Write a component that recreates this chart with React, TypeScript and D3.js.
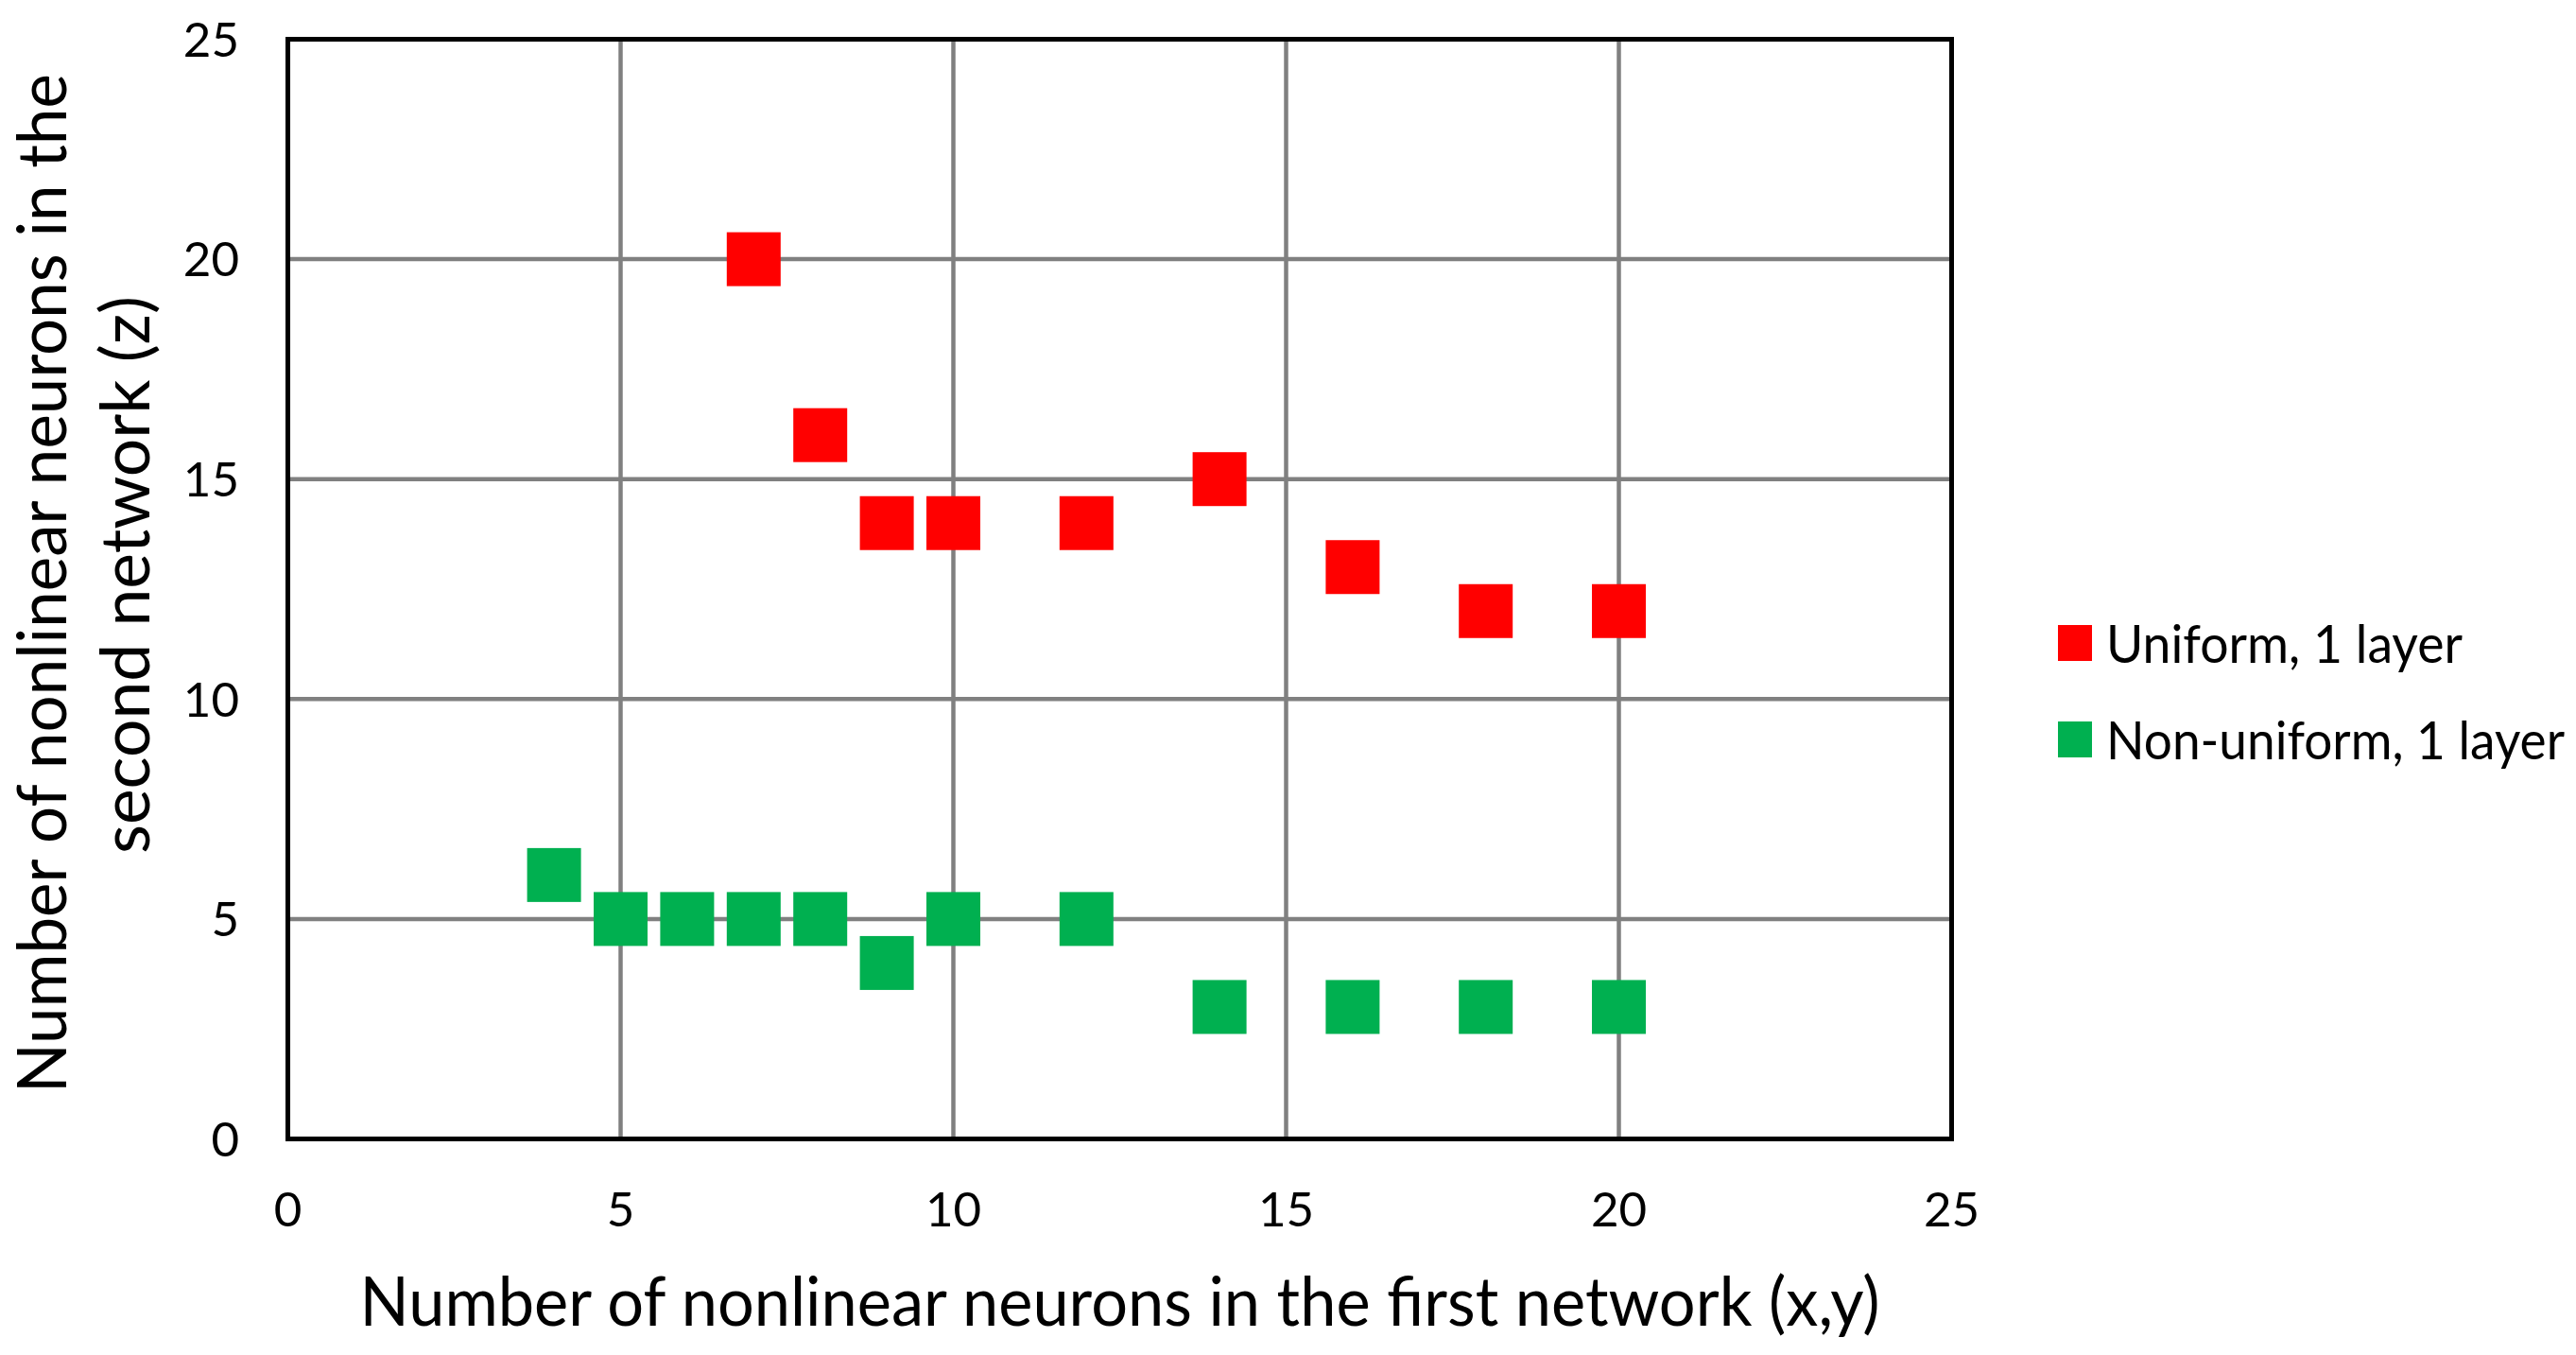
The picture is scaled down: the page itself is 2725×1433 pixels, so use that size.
import React from "react";
import * as d3 from "d3";

const uniformX = [7, 8, 9, 10, 12, 14, 16, 18, 20];
const uniformZ = [20, 16, 14, 14, 14, 15, 13, 12, 12];
const nonUniformX = [4, 5, 6, 7, 8, 9, 10, 12, 14, 16, 18, 20];
const nonUniformZ = [6, 5, 5, 5, 5, 4, 5, 5, 3, 3, 3, 3];
const xTicks = [0, 5, 10, 15, 20, 25];
const yTicks = [0, 5, 10, 15, 20, 25];
const seriesNames = ["Uniform, 1 layer", "Non-uniform, 1 layer"];
const seriesColors = ["#FF0000", "#00B050"];
const xTitle = "Number of nonlinear neurons in the first network (x,y)";
const yTitleLines = ["Number of nonlinear neurons in the", "second network (z)"];

const W = 2725;
const H = 1433;
const L = 304.5, R = 2064.5, T = 41.5, B = 1204.5;
const FONT = "Lato, 'Liberation Sans', sans-serif";

export default function App() {
  const x = d3.scaleLinear().domain([0, 25]).range([L, R]);
  const y = d3.scaleLinear().domain([0, 25]).range([B, T]);
  const ms = 57;
  const series = [
    { xs: uniformX, zs: uniformZ },
    { xs: nonUniformX, zs: nonUniformZ },
  ];
  const legendY = [680, 782];
  const legendLen = [377, 485];
  return (
    <svg width={W} height={H} style={{ position: "absolute", left: 0, top: 0, display: "block", background: "#fff" }}>
      <rect x={0} y={0} width={W} height={H} fill="#fff" />
      {xTicks.filter((t) => t > 0 && t < 25).map((t) => (
        <line key={"gx" + t} x1={x(t)} x2={x(t)} y1={T} y2={B} stroke="#808080" strokeWidth={4.5} />
      ))}
      {yTicks.filter((t) => t > 0 && t < 25).map((t) => (
        <line key={"gy" + t} x1={L} x2={R} y1={y(t)} y2={y(t)} stroke="#808080" strokeWidth={4.5} />
      ))}
      <rect x={L} y={T} width={R - L} height={B - T} fill="none" stroke="#000" strokeWidth={5} />
      {xTicks.map((t) => (
        <text key={"xt" + t} x={x(t)} y={1297} textAnchor="middle" fontFamily={FONT} fontSize={51} fill="#000">
          {t}
        </text>
      ))}
      {yTicks.map((t) => (
        <text key={"yt" + t} x={253} y={y(t)} dy="0.36em" textAnchor="end" fontFamily={FONT} fontSize={51} fill="#000">
          {t}
        </text>
      ))}
      {series.map((s, si) =>
        s.xs.map((xv, i) => (
          <rect
            key={"m" + si + "-" + i}
            x={x(xv) - ms / 2}
            y={y(s.zs[i]) - ms / 2}
            width={ms}
            height={ms}
            fill={seriesColors[si]}
          />
        ))
      )}
      <text x={(L + R) / 2} y={1402} textAnchor="middle" fontFamily={FONT} fontSize={72} fill="#000" textLength={1608} lengthAdjust="spacingAndGlyphs">
        {xTitle}
      </text>
      <text transform={`translate(70, 617) rotate(-90)`} textAnchor="middle" fontFamily={FONT} fontSize={72} fill="#000" textLength={1078} lengthAdjust="spacingAndGlyphs">
        {yTitleLines[0]}
      </text>
      <text transform={`translate(158, 608) rotate(-90)`} textAnchor="middle" fontFamily={FONT} fontSize={72} fill="#000" textLength={590} lengthAdjust="spacingAndGlyphs">
        {yTitleLines[1]}
      </text>
      {seriesNames.map((n, i) => (
        <g key={"lg" + i}>
          <rect x={2177} y={legendY[i] - 19} width={36} height={38} fill={seriesColors[i]} />
          <text x={2228} y={legendY[i]} dy="0.36em" fontFamily={FONT} fontSize={57} fill="#000" textLength={legendLen[i]} lengthAdjust="spacingAndGlyphs">
            {n}
          </text>
        </g>
      ))}
    </svg>
  );
}
